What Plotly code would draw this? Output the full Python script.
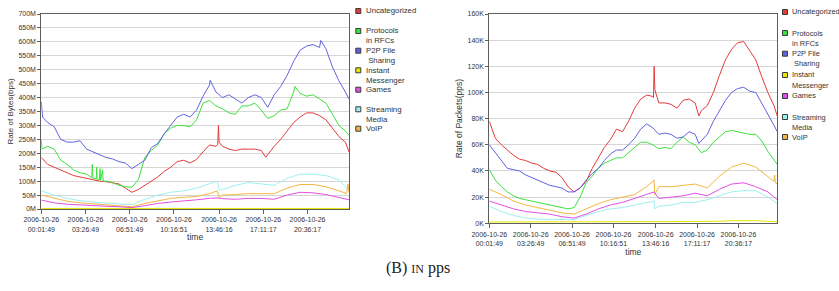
import plotly.graph_objects as go
import pandas as pd

# ---------------- data ----------------
CATEGORIES = ["Uncategorized", "Protocols in RFCs", "P2P File Sharing", "Instant Messenger",
              "Games", "Streaming Media", "VoIP"]
LEGEND_LINES = [["Uncategorized"], ["Protocols", "in RFCs"], ["P2P File", "\u00a0Sharing"],
                ["Instant", "Messenger"], ["Games"], ["Streaming", "Media"], ["VoIP"]]
COLORS = ["#e23b3b", "#3de03d", "#6262e0", "#e6e600", "#e24fe2", "#9ef0f0", "#f2b640"]

START = "2006-10-26 00:01:49"
TICK_TIMES = ["2006-10-26 00:01:49", "2006-10-26 03:26:49", "2006-10-26 06:51:49",
              "2006-10-26 10:16:51", "2006-10-26 13:46:16", "2006-10-26 17:11:17",
              "2006-10-26 20:36:17"]

# hours after START
HOURS_MAJOR = [0, 0.5, 1, 1.5, 2, 2.5, 3, 3.5, 4, 4.5, 5, 5.5, 6, 6.5, 7, 7.5, 8, 8.5, 9, 9.5,
               10, 10.5, 11, 11.5, 12, 12.5, 13, 13.5, 14, 14.5, 15, 15.5, 16, 16.5, 17, 17.5,
               18, 18.5, 19, 19.5, 20, 20.5, 21, 21.5, 22, 22.5, 23, 23.5, 23.78]
HOURS_MINOR = [0, 1, 2, 3, 4, 5, 6, 7, 8, 9, 10, 11, 12, 13, 13.6, 14, 15, 16, 17, 18, 19,
               20, 21, 22, 23, 23.78]

# ---- left chart: Rate of Bytes (M bps) ----
BYTES_UNCAT = [185, 160, 150, 140, 130, 120, 115, 110, 105, 100, 98, 95, 90, 75, 60, 70, 85, 100,
               115, 135, 150, 170, 175, 165, 178, 205, 230, 225, 225, 215, 210, 215, 215, 215, 210,
               195, 225, 250, 280, 310, 330, 345, 345, 335, 320, 290, 260, 240, 205]
BYTES_UNCAT_EXTRA_H = [13.64, 13.69, 13.74, 17.35]
BYTES_UNCAT_EXTRA_V = [232, 300, 240, 186]
BYTES_PROTO = [250, 225, 215, 175, 160, 140, 130, 125, 110, 105, 100, 95, 85, 80, 78, 105, 185,
               210, 230, 270, 290, 300, 300, 295, 320, 380, 390, 370, 360, 345, 340, 370, 370, 380,
               355, 325, 335, 355, 360, 420, 415, 405, 410, 395, 380, 340, 300, 280, 265]
BYTES_PROTO_EXTRA_H = [0.05, 3.9, 3.94, 3.98, 4.25, 4.28, 4.31, 4.54, 4.58, 4.74, 4.78, 19.6]
BYTES_PROTO_EXTRA_V = [215, 112, 160, 112, 108, 150, 106, 145, 103, 140, 100, 440]
BYTES_P2P = [385, 310, 295, 250, 240, 240, 245, 215, 205, 195, 185, 180, 170, 165, 145, 160, 175,
             220, 235, 270, 300, 330, 340, 330, 355, 405, 445, 420, 400, 410, 395, 380, 400, 410,
             400, 365, 410, 440, 480, 530, 570, 585, 590, 580, 575, 510, 460, 420, 395]
BYTES_P2P_EXTRA_H = [0.1, 13.05, 21.6]
BYTES_P2P_EXTRA_V = [330, 462, 605]
BYTES_IM = [2, 2, 1.5, 1.5, 1.5, 1.5, 1.5, 1.5, 1.5, 1.5, 2, 2, 2, 2, 2, 2, 2, 2, 2, 2, 2, 2, 2,
            2, 2, 2]
BYTES_GAMES = [32, 22, 17, 14, 12, 10, 8, 5, 12, 20, 25, 28, 33, 38, 40, 37, 35, 38, 38, 35, 50,
               60, 58, 52, 42, 33]
BYTES_STREAM = [65, 50, 38, 30, 25, 22, 18, 15, 35, 50, 60, 65, 75, 90, 100, 70, 85, 95, 90, 85,
                110, 125, 125, 120, 105, 80]
BYTES_STREAM_EXTRA_H = [13.75, 23.7]
BYTES_STREAM_EXTRA_V = [68, 70]
BYTES_VOIP = [50, 38, 28, 22, 18, 15, 12, 8, 20, 30, 38, 42, 45, 55, 65, 50, 52, 55, 55, 55, 75,
              88, 88, 80, 65, 60]
BYTES_VOIP_EXTRA_H = [13.75, 23.6, 23.7]
BYTES_VOIP_EXTRA_V = [40, 56, 90]

# ---- right chart: Rate of Packets (K pps) ----
PKTS_UNCAT = [78, 65, 60, 56, 52, 49, 48, 46, 45, 42, 40, 39, 35, 28, 24, 27, 32, 42, 50, 58, 64,
              72, 70, 78, 88, 95, 98, 97, 92, 92, 91, 88, 94, 95, 92, 86, 90, 100, 113, 125, 133,
              138, 139, 132, 125, 112, 100, 90, 82]
PKTS_UNCAT_EXTRA_H = [13.56, 13.61, 13.67, 17.3]
PKTS_UNCAT_EXTRA_V = [96, 120, 102, 82]
PKTS_PROTO = [41, 33, 28, 24, 21, 19, 18, 17, 16, 15, 14, 13, 12, 11, 12, 20, 31, 36, 42, 46, 48,
              50, 50, 54, 58, 62, 62, 60, 57, 58, 57, 62, 66, 62, 60, 54, 56, 62, 66, 70, 71, 70,
              69, 68, 68, 63, 55, 48, 45]
PKTS_P2P = [60, 54, 48, 42, 41, 40, 37, 35, 33, 31, 29, 28, 27, 24, 24, 27, 33, 38, 42, 48, 53, 56,
            56, 60, 65, 72, 76, 73, 68, 69, 68, 65, 66, 70, 68, 63, 68, 78, 86, 94, 100, 103, 104,
            101, 100, 92, 84, 75, 70]
PKTS_P2P_EXTRA_H = [17.3]
PKTS_P2P_EXTRA_V = [61]
PKTS_IM = [1, 1, 1, 1, 0.8, 0.8, 0.8, 0.8, 1, 1, 1, 1.2, 1.2, 1.3, 1.3, 1.3, 1.3, 1.3, 1.4, 1.4,
           1.6, 2, 2.2, 2, 1.5, 1.2]
PKTS_GAMES = [17, 14, 11, 9, 8, 7, 5, 4, 7, 11, 14, 16, 19, 22, 24, 19, 20, 21, 23, 21, 26, 30,
              31, 28, 24, 18]
PKTS_STREAM = [13, 9, 6, 4, 3, 3, 2.5, 3, 6, 9, 11, 12, 14, 16, 17, 13, 14, 16, 16, 18, 21, 24,
               25, 25, 20, 15]
PKTS_STREAM_EXTRA_H = [13.66]
PKTS_STREAM_EXTRA_V = [11]
PKTS_VOIP = [26, 22, 17, 14, 12, 10, 8, 7, 11, 15, 18, 20, 22, 28, 33, 28, 28, 29, 30, 27, 36, 43,
             46, 43, 36, 30]
PKTS_VOIP_EXTRA_H = [13.66, 23.5, 23.56, 23.62]
PKTS_VOIP_EXTRA_V = [22, 32, 37, 31]

# ---------------- helpers ----------------
W, H = 839, 291
t0 = pd.Timestamp(START)


def to_time(hours):
    return [t0 + pd.Timedelta(hours=h) for h in hours]


def merge(h1, v1, h2=(), v2=()):
    pairs = sorted(zip(list(h1) + list(h2), list(v1) + list(v2)))
    return [p[0] for p in pairs], [p[1] for p in pairs]


def fx(px):
    return px / W


def fy(py):
    return 1 - py / H


fig = go.Figure()

left_series = [merge(HOURS_MAJOR, BYTES_UNCAT, BYTES_UNCAT_EXTRA_H, BYTES_UNCAT_EXTRA_V),
               merge(HOURS_MAJOR, BYTES_PROTO, BYTES_PROTO_EXTRA_H, BYTES_PROTO_EXTRA_V),
               merge(HOURS_MAJOR, BYTES_P2P, BYTES_P2P_EXTRA_H, BYTES_P2P_EXTRA_V),
               merge(HOURS_MINOR, BYTES_IM),
               merge(HOURS_MINOR, BYTES_GAMES),
               merge(HOURS_MINOR, BYTES_STREAM, BYTES_STREAM_EXTRA_H, BYTES_STREAM_EXTRA_V),
               merge(HOURS_MINOR, BYTES_VOIP, BYTES_VOIP_EXTRA_H, BYTES_VOIP_EXTRA_V)]
right_series = [merge(HOURS_MAJOR, PKTS_UNCAT, PKTS_UNCAT_EXTRA_H, PKTS_UNCAT_EXTRA_V),
                merge(HOURS_MAJOR, PKTS_PROTO),
                merge(HOURS_MAJOR, PKTS_P2P, PKTS_P2P_EXTRA_H, PKTS_P2P_EXTRA_V),
                merge(HOURS_MINOR, PKTS_IM),
                merge(HOURS_MINOR, PKTS_GAMES),
                merge(HOURS_MINOR, PKTS_STREAM, PKTS_STREAM_EXTRA_H, PKTS_STREAM_EXTRA_V),
                merge(HOURS_MINOR, PKTS_VOIP, PKTS_VOIP_EXTRA_H, PKTS_VOIP_EXTRA_V)]

draw_order = [5, 6, 4, 3, 0, 1, 2]
for i in draw_order:
    h, v = left_series[i]
    fig.add_trace(go.Scatter(x=to_time(h), y=v, mode="lines", name=CATEGORIES[i],
                             line=dict(color=COLORS[i], width=1), showlegend=False,
                             xaxis="x", yaxis="y"))
for i in draw_order:
    h, v = right_series[i]
    fig.add_trace(go.Scatter(x=to_time(h), y=v, mode="lines", name=CATEGORIES[i],
                             line=dict(color=COLORS[i], width=1), showlegend=False,
                             xaxis="x2", yaxis="y2"))

x_end = t0 + pd.Timedelta(hours=max(HOURS_MAJOR))
tick_vals = [pd.Timestamp(t) for t in TICK_TIMES]
tick_text = [t.replace(" ", "<br>") for t in TICK_TIMES]

FONT = "Liberation Sans, Arial, sans-serif"
AXC = "#5e5e5e"
TXT = "#333333"

common_x = dict(type="date", range=[t0, x_end], tickvals=tick_vals, ticktext=tick_text,
                ticks="outside", ticklen=4, tickcolor=AXC, showline=True, linecolor=AXC,
                linewidth=1, mirror=True, showgrid=False, zeroline=False, automargin=False,
                tickfont=dict(size=7, color=TXT, family=FONT))
common_y = dict(ticks="outside", ticklen=3, tickcolor=AXC, showline=True, linecolor=AXC,
                linewidth=1, mirror=True, showgrid=True, gridcolor="#d6d6d6", gridwidth=1,
                zeroline=False, automargin=False,
                tickfont=dict(size=7, color=TXT, family=FONT))

fig.update_layout(
    template="none",
    width=W, height=H, margin=dict(l=0, r=0, t=0, b=0, autoexpand=False),
    paper_bgcolor="white", plot_bgcolor="white", showlegend=False,
    font=dict(family=FONT, color=TXT),
    xaxis=dict(domain=[fx(41.3), fx(349)], anchor="y",
               title=dict(text="time", font=dict(size=8.5, color=TXT), standoff=2), **common_x),
    yaxis=dict(domain=[fy(209), fy(14)], anchor="x", range=[0, 700], dtick=50, ticksuffix="M",
               title=dict(text="Rate of Bytes(bps)", font=dict(size=8, color=TXT), standoff=3),
               **common_y),
    xaxis2=dict(domain=[fx(489.3), fx(777.3)], anchor="y2",
                title=dict(text="time", font=dict(size=8.5, color=TXT), standoff=2), **common_x),
    yaxis2=dict(domain=[fy(223.3), fy(14)], anchor="x2", range=[0, 160], dtick=20,
                ticksuffix="K",
                title=dict(text="Rate of Packets(pps)", font=dict(size=8.5, color=TXT),
                           standoff=3),
                **common_y),
)

# ---- legends (drawn as annotations + small squares) ----
legend_specs = [
    dict(sq_x=358.3, txt_x=363.5, ys=[11, 31, 50.7, 70.3, 89.7, 109.3, 128.7], gap=9.7, size=7.8),
    dict(sq_x=785.0, txt_x=790.3, ys=[12, 33, 53.7, 75, 96, 117, 137], gap=10, size=7.4),
]
for spec in legend_specs:
    for i, lines in enumerate(LEGEND_LINES):
        y0 = spec["ys"][i]
        fig.add_shape(type="rect", xref="paper", yref="paper",
                      x0=fx(spec["sq_x"] - 2.5), x1=fx(spec["sq_x"] + 2.5),
                      y0=fy(y0 + 2.5), y1=fy(y0 - 2.5),
                      fillcolor=COLORS[i], line=dict(color="#3a3a3a", width=1))
        for k, line in enumerate(lines):
            fig.add_annotation(xref="paper", yref="paper", x=fx(spec["txt_x"]),
                               y=fy(y0 + k * spec["gap"]), xanchor="left", yanchor="middle",
                               text=line, showarrow=False,
                               font=dict(size=spec["size"], color=TXT, family=FONT))

# ---- caption ----
fig.add_annotation(xref="paper", yref="paper", x=fx(418), y=fy(268), xanchor="center",
                   yanchor="middle", showarrow=False,
                   text="(B) <span style='font-size:12px'>IN</span> pps",
                   font=dict(size=16, color="#222222", family="Liberation Serif, serif"))

fig.write_html("out.html",
               config={"displayModeBar": False},
               post_script="document.body.style.margin='0';"
                           "document.body.style.overflow='hidden';")
